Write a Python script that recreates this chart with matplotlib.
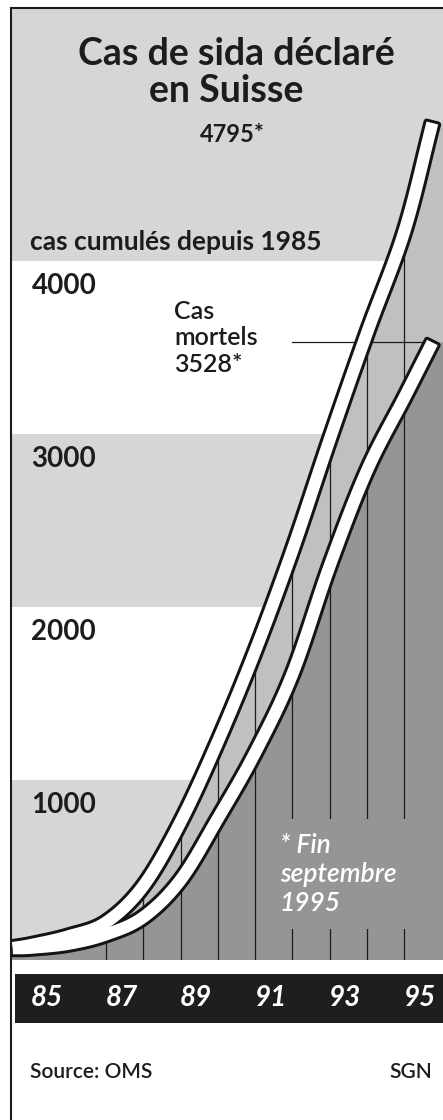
import matplotlib
matplotlib.use('Agg')

import numpy as np
import matplotlib.pyplot as plt
from matplotlib.patches import Polygon
from matplotlib.lines import Line2D

plt.rcParams['font.family'] = ['Lato', 'DejaVu Sans']

# cas cumulés (fin d'année, puis fin septembre 1995)
years = [1984.5, 1985, 1986, 1987, 1988, 1989, 1990, 1991, 1992, 1993, 1994, 1995, 1995.75]
total_cases = [32, 50, 100, 180, 390, 760, 1225, 1747, 2330, 2970, 3585, 4170, 4795]
deaths = [30, 33, 56, 110, 210, 425, 780, 1160, 1615, 2240, 2790, 3210, 3528]

grid_years = [1987, 1988, 1989, 1990, 1991, 1992, 1993, 1994, 1995]
y_labels = [1000, 2000, 3000, 4000]
year_ticks = [1985, 1987, 1989, 1991, 1993, 1995]
year_labels = ['85', '87', '89', '91', '93', '95']

INK = '#1c1c1c'
BAND = '#d6d6d6'
TOTAL_FILL = '#c0c0c0'
DEATH_FILL = '#959595'
BAR = '#1e1e1e'

W, H = 443, 1120
fig = plt.figure(figsize=(W / 100, H / 100), dpi=100)
fig.patch.set_facecolor('white')


def fx(px):
    return px / W


def fy(py):
    return 1 - py / H


X0, X1 = 1984.453, 1996.035
Y0, Y1 = -37.5, 5459

ax = fig.add_axes([fx(11), fy(960), fx(443) - fx(11), fy(8) - fy(960)])
ax.set_xlim(X0, X1)
ax.set_ylim(Y0, Y1)
ax.axis('off')

# bandes horizontales
edges = [Y0] + y_labels + [Y1]
for i in range(len(edges) - 1):
    ax.axhspan(edges[i], edges[i + 1], color=BAND if i % 2 == 0 else 'white', lw=0, zorder=0)


def catmull_rom(pts, n=20):
    p = np.vstack([2 * pts[0] - pts[1], pts, 2 * pts[-1] - pts[-2]])
    t = np.linspace(0, 1, n, endpoint=False)[:, None]
    out = []
    for i in range(1, len(p) - 2):
        p0, p1, p2, p3 = p[i - 1], p[i], p[i + 1], p[i + 2]
        out.append(0.5 * (2 * p1 + (-p0 + p2) * t + (2 * p0 - 5 * p1 + 4 * p2 - p3) * t ** 2
                          + (-p0 + 3 * p1 - 3 * p2 + p3) * t ** 3))
    out.append(pts[-1:])
    return np.vstack(out)


def centerline(xs, ys):
    px = ax.transData.transform(np.column_stack([xs, ys]))
    return catmull_rom(px)


def to_data(px):
    return ax.transData.inverted().transform(px)


def ribbon(px, half=6.0):
    d = np.gradient(px, axis=0)
    nrm = np.column_stack([-d[:, 1], d[:, 0]])
    nrm /= np.linalg.norm(nrm, axis=1)[:, None]
    return to_data(np.vstack([px + nrm * half, (px - nrm * half)[::-1]]))


total_px = centerline(years, total_cases)
death_px = centerline(years, deaths)

for px, color, z in [(total_px, TOTAL_FILL, 1), (death_px, DEATH_FILL, 2)]:
    c = to_data(px)
    xs = np.r_[X0, c[:, 0], X1, X1, X0]
    ys = np.r_[c[0, 1], c[:, 1], c[-1, 1], Y0, Y0]
    ax.fill(xs, ys, color=color, lw=0, zorder=z)

# traits verticaux jusqu'au total de chaque année
tops = [total_cases[years.index(y)] for y in grid_years]
ax.vlines(grid_years, Y0, tops, colors=INK, lw=0.9, zorder=3)

# renvoi vers la courbe des décès
ax.plot([1991.99, years[-1]], [deaths[-1], deaths[-1]], color=INK, lw=0.9, zorder=3)

ax.text(1991.66, 459, '* Fin\nseptembre\n1995', color='white', fontsize=19, style='italic',
        fontweight='semibold', ha='left', va='center', linespacing=1.2, zorder=4,
        bbox=dict(boxstyle='square,pad=0.5', fc=DEATH_FILL, ec='none'))

# rubans blancs cernés de noir
polys = [ribbon(total_px), ribbon(death_px)]
for poly in polys:
    ax.add_patch(Polygon(poly, closed=True, fc='white', ec='#141414', lw=4.3,
                         joinstyle='round', zorder=5))
for poly in polys:
    ax.add_patch(Polygon(poly, closed=True, fc='white', ec='none', zorder=6))

for v in y_labels:
    ax.text(1985.0, v - 190, f'{v}', fontsize=20, fontweight='bold', color=INK,
            ha='left', va='baseline', zorder=7)

ax.text(1988.82, 3554, f'Cas\nmortels\n{deaths[-1]}*', fontsize=18, fontweight='semibold',
        color=INK, ha='left', va='center', linespacing=1.2, zorder=7)

# titre
fig.text(fx(236), fy(65), 'Cas de sida déclaré', fontsize=27, fontweight='bold', color=INK,
         ha='center', va='baseline')
fig.text(fx(226), fy(102), 'en Suisse', fontsize=27, fontweight='bold', color=INK,
         ha='center', va='baseline')
fig.text(fx(232), fy(142), f'{total_cases[-1]}*', fontsize=17, fontweight='bold', color=INK,
         ha='center', va='baseline')
fig.text(fx(30), fy(250), 'cas cumulés depuis 1985', fontsize=19, fontweight='bold', color=INK,
         ha='left', va='baseline')

# barre des années
bar = fig.add_axes([fx(15), fy(1023), fx(443) - fx(15), fy(974) - fy(1023)])
bar.set_facecolor(BAR)
bar.set_xlim(1987 + (15 - 106) / 37.3, X1)
bar.set_ylim(0, 1)
bar.set_xticks([])
bar.set_yticks([])
for s in bar.spines.values():
    s.set_visible(False)
for yr, lab in zip(year_ticks, year_labels):
    bar.text(yr + 0.42, 0.5, lab, color='white', fontsize=20, style='italic', fontweight='bold',
             ha='center', va='center')

fig.text(fx(30), fy(1078), 'Source: OMS', fontsize=15, fontweight='semibold', color=INK,
         ha='left', va='baseline')
fig.text(fx(432), fy(1078), 'SGN', fontsize=15, fontweight='semibold', color=INK,
         ha='right', va='baseline')

# cadre
fig.add_artist(Line2D([fx(11), fx(11)], [fy(8), 0], color=INK, lw=1.5))
fig.add_artist(Line2D([fx(11), 1], [fy(8), fy(8)], color=INK, lw=1.5))

fig.savefig('out.png', dpi=100)
